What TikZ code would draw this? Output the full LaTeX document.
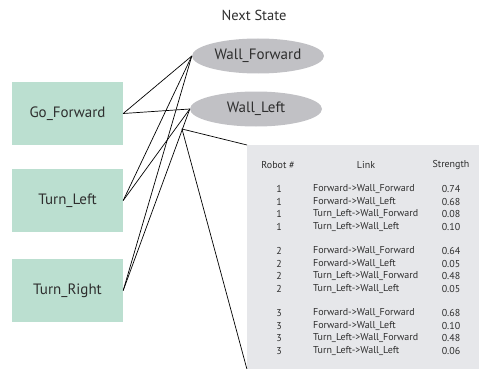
\documentclass[tikz,border=0pt]{standalone}
\usepackage{fontspec}
\setmainfont{PT Sans}
\usepackage{xcolor}
\usepackage{tikz}
\usetikzlibrary{shapes.geometric}
\definecolor{actgreen}{HTML}{BBDFD0}
\definecolor{stategray}{HTML}{C1C1C5}
\definecolor{tablegray}{HTML}{E6E7EA}
\definecolor{textgray}{HTML}{2E2E2E}

\begin{document}
\begin{tikzpicture}[x=1pt, y=-1pt,
    action/.style={rectangle, fill=actgreen, minimum width=111pt, minimum height=63pt, inner sep=0pt, text=textgray, font=\fontsize{15}{17}\selectfont},
    state/.style={ellipse, fill=stategray, minimum width=132pt, minimum height=35pt, inner sep=0pt, text=textgray, font=\fontsize{15}{17}\selectfont},
    cell/.style={inner sep=0pt, text=textgray, font=\fontsize{10}{12}\selectfont},
    link/.style={draw=black, line width=0.7pt}]
            \useasboundingbox (0,0) rectangle (479,369);
            \node (nextstate) at (254,15) [cell, font=\fontsize{14.5}{17}\selectfont] {Next State};
            \node (wallfwd) at (258,56) [state] {Wall\_Forward};
            \node (wallleft) at (256,109) [state] {Wall\_Left};
            \node (gofwd) at (67.5,113.5) [action] {Go\_Forward};
            \node (turnleft) at (67.5,200.5) [action] {Turn\_Left};
            \node (turnright) at (67.5,290.5) [action] {Turn\_Right};
            \node (table) at (247,145) [anchor=north west, fill=tablegray, minimum width=232pt, minimum height=224pt, inner sep=0pt] {};
            % links from the actions to the next states
            \draw [link] (gofwd.east) -- (wallfwd.west);
            \draw [link] (gofwd.east) -- (wallleft.west);
            \draw [link] (turnleft.east) -- (wallfwd.west);
            \draw [link] (turnleft.east) -- (wallleft.west);
            \draw [link] (turnright.east) -- (wallfwd.west);
            \draw [link] (turnright.east) -- (wallleft.west);
            \coordinate (callout) at (182,129);
            \draw [link] (table.north west) -- (callout) -- (table.south west);
            % table of link strengths
            \node (hrobot) at (278,165) [cell] {Robot \#};
            \node (hlink) at (366,165) [cell] {Link};
            \node (hstrength) at (451,165) [cell] {Strength};
            \foreach \robot/\sa/\sb/\sc/\sd in {1/0.74/0.68/0.08/0.10, 2/0.64/0.05/0.48/0.05, 3/0.68/0.10/0.48/0.06} {
                \foreach \link/\val [count=\r] in {Forward->Wall\_Forward/\sa, Forward->Wall\_Left/\sb, Turn\_Left->Wall\_Forward/\sc, Turn\_Left->Wall\_Left/\sd} {
                    \pgfmathsetmacro{\rowy}{189 + (\robot-1)*62 + (\r-1)*12.6}
                    \node (n\robot-\r) at (279,\rowy) [cell] {\robot};
                    \node (l\robot-\r) at (313,\rowy) [cell, anchor=west] {\link};
                    \node (s\robot-\r) at (451,\rowy) [cell] {\val};
                }
            }
        \end{tikzpicture}
\end{document}
